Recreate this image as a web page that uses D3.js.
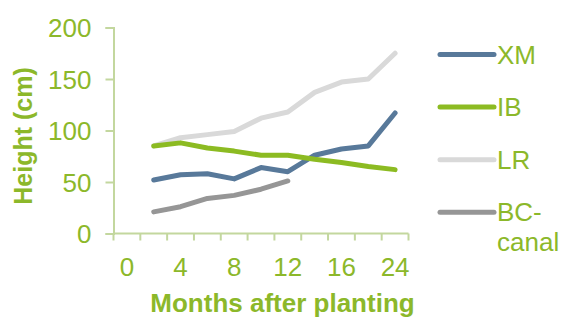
<!DOCTYPE html>
<html>
<head>
<meta charset="utf-8">
<script src="https://cdn.jsdelivr.net/npm/d3@7"></script>
<style>
  body { margin: 0; background: #fff; }
  svg { display: block; font-family: "Liberation Sans", Arial, sans-serif; }
</style>
</head>
<body>
<svg id="chart" width="564" height="320"></svg>
<script>
// months after planting (category axis, every other one labelled)
const months = ["0", "2", "4", "6", "8", "10", "12", "14", "16", "20", "24"];
const monthLabels = ["0", "4", "8", "12", "16", "24"];
const yTicks = [0, 50, 100, 150, 200];

const seriesNames = ["XM", "IB", "LR", "BC-canal"];
const xm = [null, 52, 57, 58, 53, 64, 60, 76, 82, 85, 117];
const ib = [null, 85, 88, 83, 80, 76, 76, 72, 69, 65, 62];
const lr = [null, 85, 93, 96, 99, 112, 118, 137, 147, 150, 175];
const bc = [null, 21, 26, 34, 37, 43, 51, null, null, null, null];
const seriesColors = ["#58799a", "#8cbb22", "#d9d9d9", "#969696"];

const textColor = "#8cb82a";
const axisColor = "#c3d79e";

let chart = d3.select("#chart");

let xscale = d3.scaleBand()
    .domain(months)
    .range([113.5, 408.5])
    .padding(0);

let yscale = d3.scaleLinear()
    .domain([0, 200])
    .range([233.5, 27.5]);

// y axis
let yaxis = chart.append("g")
    .attr("transform", "translate(113.5,0)")
    .call(d3.axisLeft(yscale).tickValues(yTicks).tickSize(8).tickPadding(14));
yaxis.select(".domain").attr("stroke", axisColor).attr("stroke-width", 2);
yaxis.selectAll(".tick line").attr("stroke", axisColor).attr("stroke-width", 2);
yaxis.selectAll(".tick text")
    .attr("fill", textColor)
    .style("font-size", "26px")
    .attr("dy", "0.36em");

// x axis: tick marks between categories
let xaxis = chart.append("g")
    .attr("transform", "translate(0,233.5)");
xaxis.append("line")
    .attr("x1", xscale.range()[0]).attr("x2", xscale.range()[1])
    .attr("stroke", axisColor).attr("stroke-width", 2);
let edges = months.map(m => xscale(m)).concat([xscale.range()[1]]);
xaxis.selectAll("line.tk").data(edges)
    .enter().append("line")
    .attr("class", "tk")
    .attr("x1", d => d).attr("x2", d => d)
    .attr("y1", 0).attr("y2", 7)
    .attr("stroke", axisColor).attr("stroke-width", 2);
xaxis.selectAll("text").data(monthLabels)
    .enter().append("text")
    .attr("x", d => xscale(d) + xscale.bandwidth() / 2)
    .attr("y", 42)
    .attr("text-anchor", "middle")
    .attr("fill", textColor)
    .style("font-size", "26px")
    .text(d => d);

// axis titles
chart.append("text")
    .attr("x", 282.5)
    .attr("y", 312)
    .attr("text-anchor", "middle")
    .attr("fill", textColor)
    .style("font-size", "26px")
    .style("font-weight", "bold")
    .text("Months after planting");

chart.append("text")
    .attr("transform", "translate(32,136) rotate(-90)")
    .attr("text-anchor", "middle")
    .attr("fill", textColor)
    .style("font-size", "25px")
    .style("font-weight", "bold")
    .text("Height (cm)");

// lines
let line = d3.line()
    .defined(d => d != null)
    .x((d, i) => xscale(months[i]) + xscale.bandwidth() / 2)
    .y(d => yscale(d));

let allSeries = [xm, ib, lr, bc];
// draw order so LR sits under the others like the original
let drawOrder = [2, 3, 0, 1];
drawOrder.forEach(k => {
    chart.append("path")
        .datum(allSeries[k])
        .attr("d", line)
        .attr("fill", "none")
        .attr("stroke", seriesColors[k])
        .attr("stroke-width", 5)
        .attr("stroke-linecap", "round")
        .attr("stroke-linejoin", "round");
});

// legend
let legend = chart.selectAll("g.legend").data(seriesNames)
    .enter().append("g")
    .attr("class", "legend")
    .attr("transform", (d, i) => "translate(440," + (54.5 + i * 52.6) + ")");
legend.append("line")
    .attr("x1", 0).attr("x2", 54)
    .attr("stroke", (d, i) => seriesColors[i])
    .attr("stroke-width", 5)
    .attr("stroke-linecap", "round");
legend.append("text")
    .attr("x", 57)
    .attr("y", 9)
    .attr("fill", textColor)
    .style("font-size", "26px")
    .each(function (d) {
        let parts = d == "BC-canal" ? ["BC-", "canal"] : [d];
        d3.select(this).selectAll("tspan").data(parts)
            .enter().append("tspan")
            .attr("x", 57)
            .attr("dy", (p, j) => j == 0 ? 0 : 30)
            .text(p => p);
    });
</script>
</body>
</html>
